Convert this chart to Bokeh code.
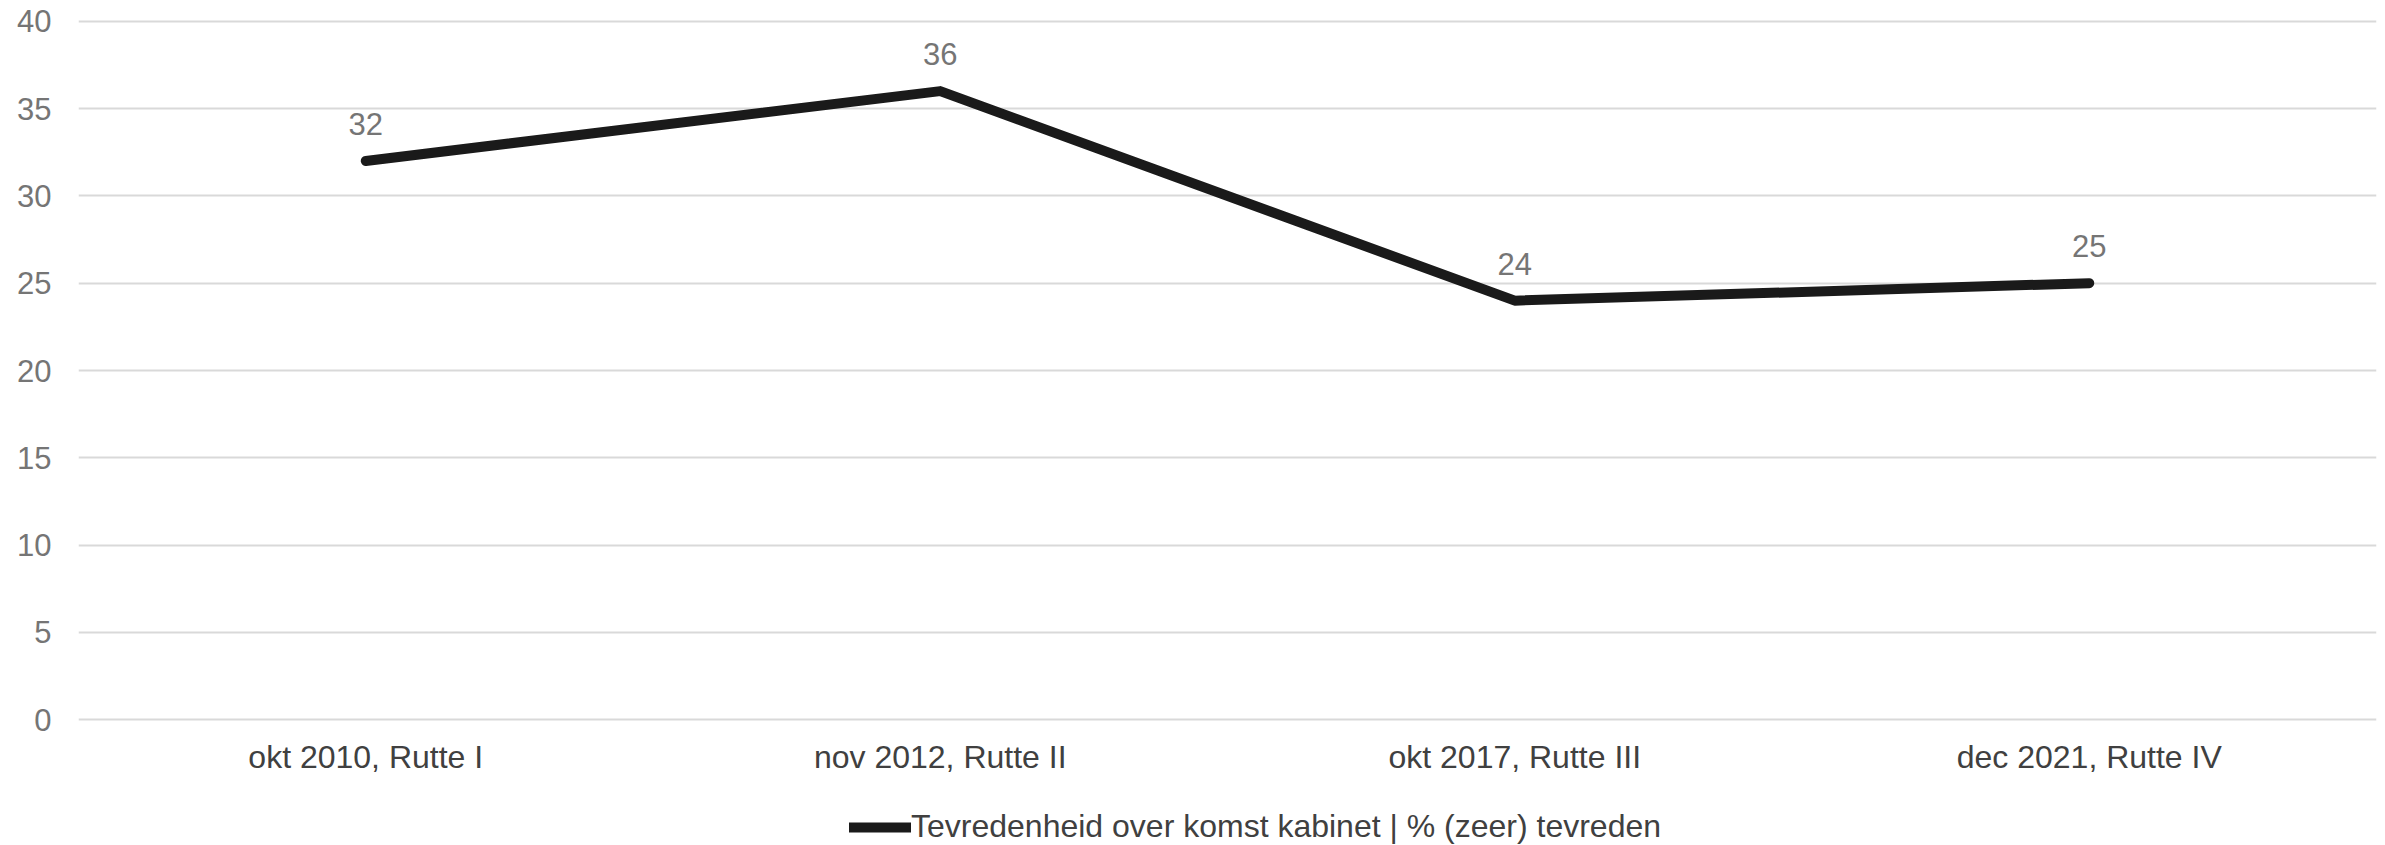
from bokeh.plotting import figure
from bokeh.layouts import column
from bokeh.models import ColumnDataSource, LabelSet, Legend, LegendItem, FactorRange, Range1d, FixedTicker
from bokeh.core.properties import value
from bokeh.embed import file_html
from bokeh.resources import INLINE

categories = ["okt 2010, Rutte I", "nov 2012, Rutte II", "okt 2017, Rutte III", "dec 2021, Rutte IV"]
values = [32, 36, 24, 25]
series_name = "Tevredenheid over komst kabinet | % (zeer) tevreden"
y_ticks = [0, 5, 10, 15, 20, 25, 30, 35, 40]

FONT = "Liberation Sans"
LINE_COLOR = "#1a1a1a"

src = ColumnDataSource(dict(x=categories, y=values, lbl=[str(v) for v in values]))

W = 2385
H_LEG = 45
H_MAIN = 800

p = figure(width=W, height=H_MAIN, output_backend="svg", toolbar_location=None,
           x_range=FactorRange(factors=categories, range_padding=0),
           y_range=Range1d(-0.1, 40.1),
           min_border_left=78, min_border_right=9, min_border_top=19, min_border_bottom=79)
p.outline_line_color = None
p.background_fill_color = "white"
p.border_fill_color = "white"

r = p.line("x", "y", source=src, line_color=LINE_COLOR, line_width=10,
           line_cap="round", line_join="round")

labels = LabelSet(x="x", y="y", text="lbl", source=src, y_offset=37,
                  text_align="center", text_baseline="middle",
                  text_font=value(FONT), text_font_size="31px", text_color="#757575")
p.add_layout(labels)

p.xgrid.grid_line_color = None
p.ygrid.grid_line_color = "#d9d9d9"
p.ygrid.grid_line_width = 2
p.yaxis.ticker = FixedTicker(ticks=y_ticks)

for ax in (p.xaxis[0], p.yaxis[0]):
    ax.axis_line_color = None
    ax.major_tick_line_color = None
    ax.minor_tick_line_color = None
    ax.major_tick_out = 0
    ax.major_tick_in = 0
    ax.major_label_text_font = FONT

p.yaxis.major_label_text_font_size = "31px"
p.yaxis.major_label_text_color = "#757575"
p.yaxis.major_label_standoff = 27

p.xaxis.major_label_text_font_size = "32px"
p.xaxis.major_label_text_color = "#404040"
p.xaxis.major_label_standoff = 17

# legend strip below the chart
p2 = figure(width=W, height=H_LEG, output_backend="svg", toolbar_location=None,
            x_range=FactorRange(factors=categories, range_padding=0),
            y_range=Range1d(0, 40), x_axis_location=None, y_axis_location=None,
            min_border_left=78, min_border_right=9, min_border_top=0, min_border_bottom=0)
p2.outline_line_color = None
p2.xgrid.grid_line_color = None
p2.ygrid.grid_line_color = None
r2 = p2.line("x", "y", source=src, line_color=LINE_COLOR, line_width=10,
             line_cap="round", visible=False)

legend = Legend(items=[LegendItem(label=series_name, renderers=[r2])],
                location=(771, 0), orientation="horizontal",
                padding=0, margin=0, spacing=0, label_standoff=0,
                glyph_width=62, glyph_height=20, label_height=20,
                label_text_font=FONT, label_text_font_size="32px",
                label_text_color="#404040", inactive_fill_alpha=0,
                border_line_color=None, background_fill_alpha=0)
p2.add_layout(legend)

layout = column(p, p2, spacing=0)
open("out.html", "w").write(file_html(layout, INLINE))
